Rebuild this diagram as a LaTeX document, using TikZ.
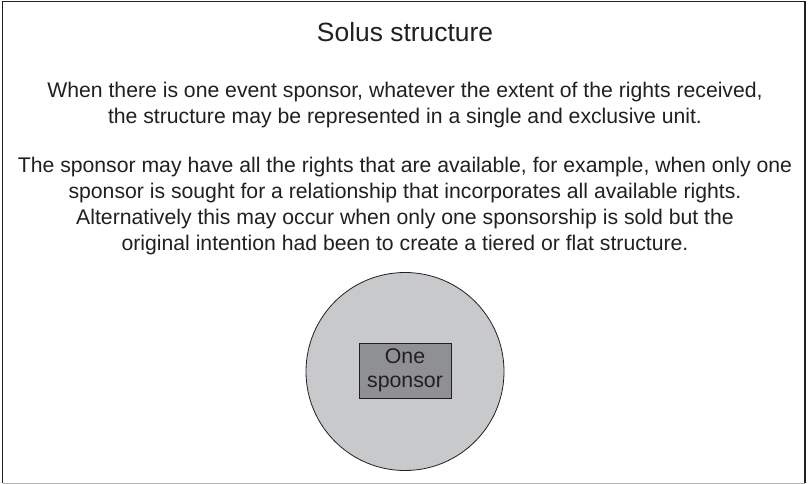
\documentclass[tikz,border=0pt]{standalone}
\usepackage{fontspec}
\setmainfont{Liberation Sans}
\usetikzlibrary{positioning}
\definecolor{discgray}{HTML}{C8C9CB}
\definecolor{boxgray}{HTML}{8F9092}
\definecolor{inkgray}{HTML}{231F20}
\tikzset{
  bodytext/.style={align=center, font=\fontsize{21.2}{26.2}\selectfont, text=inkgray, inner sep=0pt},
  sponsorbox/.style={draw=inkgray, fill=boxgray, minimum width=92pt, minimum height=55pt, align=center,
    font=\fontsize{21.3}{23.5}\selectfont, text=inkgray, inner sep=0pt, line width=0.8pt}
}
\begin{document}
\begin{tikzpicture}[x=1pt, y=-1pt]
    \useasboundingbox (0,0) rectangle (808,484);
    \fill[white] (0,0) rectangle (808,484);
    \draw[inkgray, line width=1.6pt] (2.5,483) -- (2.5,1.5) -- (805,1.5) -- (805,483);
    \draw[gray!60, line width=1pt] (2.5,483.5) -- (805,483.5);
    % title and the two paragraphs (base = last line)
    \node[bodytext, font=\fontsize{26.4}{30}\selectfont, anchor=base] (title) at (405,41.7) {Solus structure};
    \node[bodytext, anchor=base] (para1) at (405,123.3) {When there is one event sponsor, whatever the extent of the rights received,\\
      the structure may be represented in a single and exclusive unit.};
    \node[bodytext, anchor=base] (para2) at (405,250.7) {The sponsor may have all the rights that are available, for example, when only one\\
      sponsor is sought for a relationship that incorporates all available rights.\\
      Alternatively this may occur when only one sponsorship is sold but the\\
      original intention had been to create a tiered or flat structure.};
    % the single unit
    \node[circle, draw=inkgray, fill=discgray, minimum size=198pt, line width=0.8pt] (solus) at (405,371.5) {};
    \node[sponsorbox] (onesponsor) at (405,370.5) {One\\sponsor};
\end{tikzpicture}
\end{document}
